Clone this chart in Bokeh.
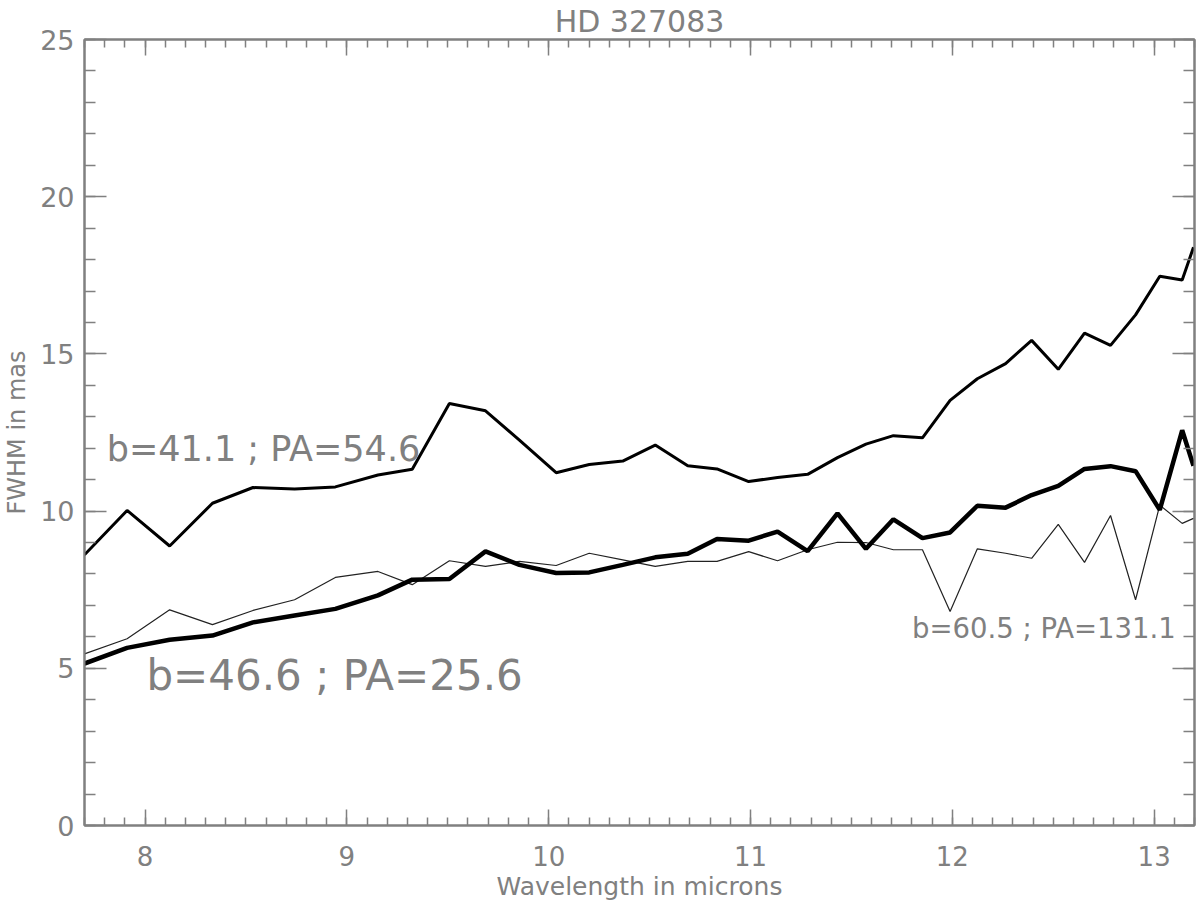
from bokeh.plotting import figure
from bokeh.models import LinearAxis, SingleIntervalTicker, Range1d, Label, ColumnDataSource
from bokeh.embed import file_html
from bokeh.resources import INLINE

# ---- data ----
wavelength = [7.700, 7.911, 8.122, 8.334, 8.535, 8.741, 8.943, 9.154, 9.324, 9.508,
              9.687, 9.855, 10.037, 10.201, 10.367, 10.528, 10.689, 10.834, 10.991, 11.134,
              11.283, 11.431, 11.572, 11.708, 11.852, 11.989, 12.124, 12.264, 12.393, 12.525,
              12.655, 12.784, 12.908, 13.028, 13.139, 13.195]

fwhm_b41 = [8.61, 10.02, 8.89, 10.25, 10.75, 10.70, 10.77, 11.15, 11.33, 13.42,
            13.19, 12.26, 11.22, 11.48, 11.59, 12.10, 11.44, 11.34, 10.94, 11.07,
            11.17, 11.70, 12.13, 12.40, 12.33, 13.52, 14.21, 14.69, 15.43, 14.51,
            15.66, 15.27, 16.24, 17.47, 17.35, 18.39]

fwhm_b46 = [5.15, 5.65, 5.91, 6.04, 6.46, 6.68, 6.89, 7.32, 7.82, 7.84,
            8.72, 8.29, 8.03, 8.05, 8.29, 8.53, 8.64, 9.11, 9.06, 9.35,
            8.73, 9.93, 8.80, 9.74, 9.14, 9.32, 10.17, 10.11, 10.51, 10.80,
            11.34, 11.43, 11.27, 10.04, 12.57, 11.44]

fwhm_b60 = [5.46, 5.94, 6.86, 6.39, 6.84, 7.18, 7.89, 8.08, 7.66, 8.42,
            8.24, 8.40, 8.27, 8.66, 8.45, 8.24, 8.40, 8.40, 8.71, 8.42,
            8.77, 9.01, 9.00, 8.77, 8.77, 6.81, 8.80, 8.66, 8.50, 9.58,
            8.37, 9.86, 7.18, 10.19, 9.61, 9.77]

label_texts = ["b=41.1 ; PA=54.6", "b=46.6 ; PA=25.6", "b=60.5 ; PA=131.1"]
label_x = [7.81, 8.007, 11.80]
label_y = [11.97, 4.77, 6.28]

title_text = "HD 327083"
x_title = "Wavelength in microns"
y_title = "FWHM in mas"

GRAY = "#808080"
FONT = "DejaVu Sans"

src = ColumnDataSource(dict(wl=wavelength, a=fwhm_b41, b=fwhm_b46, c=fwhm_b60))

p = figure(frame_width=1110, frame_height=786, output_backend="svg", toolbar_location=None,
           x_range=Range1d(7.7, 13.2), y_range=Range1d(0, 25),
           x_axis_type=None, y_axis_type=None,
           min_border_left=80, min_border_right=2, min_border_top=32, min_border_bottom=60)
p.outline_line_color = GRAY
p.outline_line_width = 2
p.background_fill_color = "white"
p.border_fill_color = "white"

p.title.text = title_text
p.title.align = "center"
p.title.text_font = FONT
p.title.text_font_size = "30px"
p.title.text_font_style = "normal"
p.title.text_color = GRAY
p.title.standoff = 2

def style_axis(ax, major_len, minor_len, labels=True):
    ax.axis_line_color = GRAY
    ax.axis_line_width = 2
    ax.major_tick_line_color = GRAY
    ax.minor_tick_line_color = GRAY
    ax.major_tick_line_width = 1.5
    ax.minor_tick_line_width = 1.5
    ax.major_tick_in = major_len
    ax.major_tick_out = 0
    ax.minor_tick_in = minor_len
    ax.minor_tick_out = 0
    ax.major_label_text_font = FONT
    ax.major_label_text_color = GRAY
    ax.axis_label_text_font = FONT
    ax.axis_label_text_color = GRAY
    ax.axis_label_text_font_style = "normal"
    if labels:
        ax.major_label_text_font_size = "27px"
    else:
        ax.major_label_text_color = None
        ax.major_label_text_font_size = "1px"
        ax.major_label_standoff = 0

xb = LinearAxis(ticker=SingleIntervalTicker(interval=1, num_minor_ticks=10), axis_label=x_title)
style_axis(xb, 16, 8)
xb.major_label_text_font_size = "26px"
xb.major_label_standoff = 20
xb.axis_label_text_font_size = "25px"
xb.axis_label_standoff = 3
p.add_layout(xb, "below")

xt = LinearAxis(ticker=SingleIntervalTicker(interval=1, num_minor_ticks=10))
style_axis(xt, 16, 8, labels=False)
p.add_layout(xt, "above")

yl = LinearAxis(ticker=SingleIntervalTicker(interval=5, num_minor_ticks=5), axis_label=y_title)
style_axis(yl, 22, 11)
yl.major_label_standoff = 10
yl.axis_label_text_font_size = "24px"
yl.axis_label_standoff = 6
p.add_layout(yl, "left")

yr = LinearAxis(ticker=SingleIntervalTicker(interval=5, num_minor_ticks=5))
style_axis(yr, 22, 11, labels=False)
p.add_layout(yr, "right")

p.line("wl", "c", source=src, line_color="#222222", line_width=1.2)
p.line("wl", "a", source=src, line_color="black", line_width=3)
p.line("wl", "b", source=src, line_color="black", line_width=4.5)

sizes = ["35px", "42px", "27.5px"]
for t, x, y, s in zip(label_texts, label_x, label_y, sizes):
    p.add_layout(Label(x=x, y=y, text=t, text_font=FONT, text_font_size=s,
                       text_color=GRAY, text_baseline="alphabetic", text_align="left"))

open("out.html", "w").write(file_html(p, INLINE))
